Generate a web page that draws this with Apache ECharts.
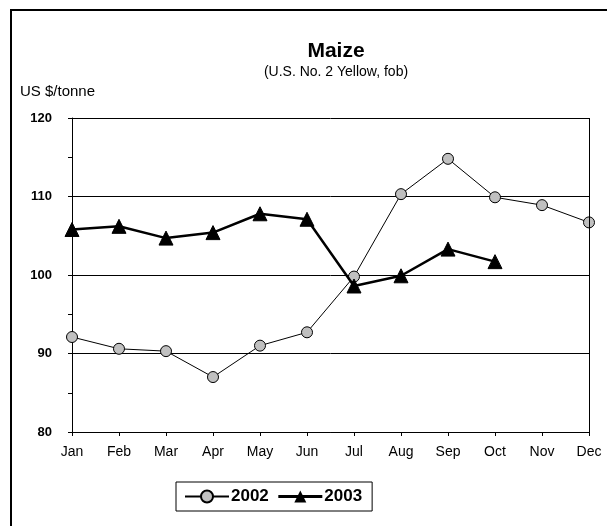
<!DOCTYPE html>
<html>
<head>
<meta charset="utf-8">
<script src="https://cdn.jsdelivr.net/npm/echarts@6/dist/echarts.min.js"></script>
<style>
    html, body { margin: 0; padding: 0; background: #fff; }
    #main { width: 607px; height: 526px; }
</style>
</head>
<body>
<div id="main"></div>
<script>
var months = ['Jan', 'Feb', 'Mar', 'Apr', 'May', 'Jun', 'Jul', 'Aug', 'Sep', 'Oct', 'Nov', 'Dec'];
var maize2002 = [92.1, 90.6, 90.3, 87.0, 91.0, 92.7, 99.8, 110.3, 114.8, 109.9, 108.9, 106.7];
var maize2003 = [105.8, 106.2, 104.7, 105.4, 107.8, 107.1, 98.6, 99.9, 103.3, 101.7];
var yTicks = [80, 90, 100, 110, 120];

var font = 'Liberation Sans, Arial, sans-serif';

echarts.init(document.getElementById('main')).setOption({
    animation: false,
    backgroundColor: '#fff',
    textStyle: { fontFamily: font },
    graphic: [{
        type: 'rect',
        shape: { x: 11, y: 10, width: 700, height: 600 },
        style: { fill: 'none', stroke: '#000', lineWidth: 2 }
    }, {
        type: 'text',
        left: 20, top: 84,
        style: { text: 'US $/tonne', font: '15px ' + font, fill: '#000' }
    }],
    title: {
        text: 'Maize',
        subtext: '(U.S. No. 2 Yellow, fob)',
        left: 331, top: 36, textAlign: 'center', itemGap: 3,
        textStyle: { fontSize: 21, fontWeight: 'bold', color: '#000', fontFamily: font },
        subtextStyle: { fontSize: 14, color: '#000', fontFamily: font }
    },
    legend: {
        data: ['2002', { name: '2003', lineStyle: { width: 3 } }],
        left: 176, top: 482,
        padding: [6, 10, 6, 8],
        borderColor: '#000', borderWidth: 1,
        itemWidth: 44, itemHeight: 15, itemGap: 8,
        textStyle: { fontSize: 17, fontWeight: 'bold', color: '#000', fontFamily: font, padding: [0, 0, 0, -3] }
    },
    grid: { left: 72, right: 18, top: 118, bottom: 94 },
    xAxis: {
        type: 'category',
        data: months,
        boundaryGap: false,
        axisLine: { lineStyle: { color: '#000', width: 1 } },
        axisTick: { show: true, length: 4, lineStyle: { color: '#000' } },
        axisLabel: { color: '#000', fontSize: 14, margin: 13, fontFamily: font }
    },
    yAxis: {
        type: 'value',
        min: yTicks[0], max: yTicks[yTicks.length - 1], interval: 10,
        axisLine: { show: true, lineStyle: { color: '#000', width: 1 } },
        axisTick: { show: true, length: 4, lineStyle: { color: '#000' } },
        minorTick: { show: true, splitNumber: 2, length: 4, lineStyle: { color: '#000' } },
        splitLine: { show: true, lineStyle: { color: '#000', width: 1 } },
        axisLabel: { color: '#000', fontSize: 13, fontWeight: 'bold', margin: 20, fontFamily: font }
    },
    series: [{
        name: '2002',
        type: 'line',
        data: maize2002,
        symbol: 'circle',
        symbolSize: 11,
        lineStyle: { color: '#000', width: 1 },
        itemStyle: { color: '#c0c0c0', borderColor: '#000', borderWidth: 1 },
        z: 3
    }, {
        name: '2003',
        type: 'line',
        data: maize2003,
        symbol: 'triangle',
        symbolSize: 14,
        lineStyle: { color: '#000', width: 2.5 },
        itemStyle: { color: '#000', borderColor: '#000' },
        z: 4
    }, {
        // right border of the plot box
        type: 'line',
        data: [],
        markLine: {
            silent: true, symbol: 'none', label: { show: false },
            lineStyle: { color: '#000', width: 1, type: 'solid' },
            data: [{ xAxis: 'Dec' }]
        }
    }]
});
</script>
</body>
</html>
